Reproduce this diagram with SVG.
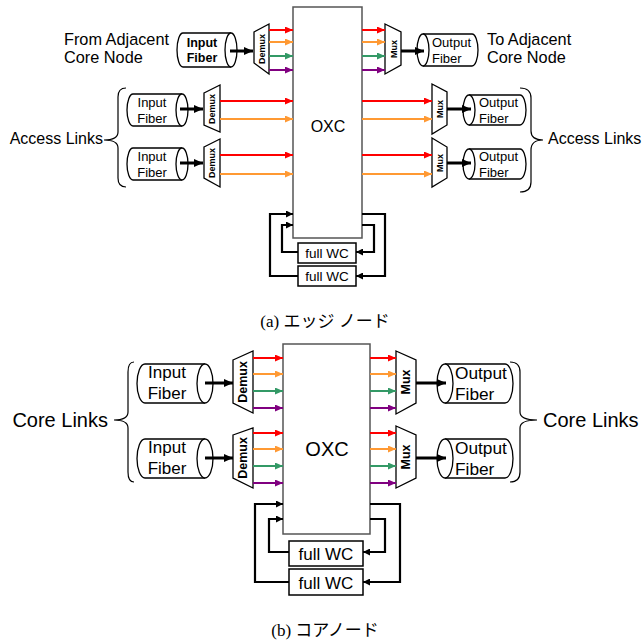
<svg xmlns="http://www.w3.org/2000/svg" width="642" height="641" viewBox="0 0 642 641">
<style>
text{font-family:"Liberation Sans",Arial,sans-serif;fill:#000}
.box{fill:#fff;stroke:#555;stroke-width:1.5}
.cyl{fill:#fff;stroke:#000;stroke-width:1.3}
.trap{fill:#fff;stroke:#000;stroke-width:1.3}
.wc{fill:#fff;stroke:#000;stroke-width:1.5}
.brace{fill:none;stroke:#000;stroke-width:1.2}
.loop{fill:none;stroke:#000;stroke-width:2.2}
.thick{fill:none;stroke:#000;stroke-width:3}
.r{stroke:#ff0000;stroke-width:2;fill:none}
.o{stroke:#ff9933;stroke-width:2;fill:none}
.g{stroke:#339966;stroke-width:2;fill:none}
.p{stroke:#800080;stroke-width:2;fill:none}
.cap{font-family:"Liberation Serif","Noto Sans CJK JP",serif;font-size:17px}
</style>
<defs>
<marker id="mr" markerUnits="userSpaceOnUse" markerWidth="8" markerHeight="7" refX="8" refY="3.5" orient="auto"><path d="M0,0L8,3.5L0,7z" fill="#ff0000"/></marker>
<marker id="mo" markerUnits="userSpaceOnUse" markerWidth="8" markerHeight="7" refX="8" refY="3.5" orient="auto"><path d="M0,0L8,3.5L0,7z" fill="#ff9933"/></marker>
<marker id="mg" markerUnits="userSpaceOnUse" markerWidth="8" markerHeight="7" refX="8" refY="3.5" orient="auto"><path d="M0,0L8,3.5L0,7z" fill="#339966"/></marker>
<marker id="mp" markerUnits="userSpaceOnUse" markerWidth="8" markerHeight="7" refX="8" refY="3.5" orient="auto"><path d="M0,0L8,3.5L0,7z" fill="#800080"/></marker>
<marker id="mk" markerUnits="userSpaceOnUse" markerWidth="9" markerHeight="8" refX="9" refY="4" orient="auto"><path d="M0,0L9,4L0,8z" fill="#000"/></marker>
<marker id="mks" markerUnits="userSpaceOnUse" markerWidth="7" markerHeight="7" refX="7" refY="3.5" orient="auto"><path d="M0,0L7,3.5L0,7z" fill="#000"/></marker>
</defs>

<!-- ===== (a) Edge node ===== -->
<g id="a-oxc"><rect class="box" x="293" y="7" width="69" height="231"/><text x="328" y="132" font-size="16" text-anchor="middle">OXC</text></g>

<g id="a-from-label"><text x="64" y="45" font-size="16.3">From Adjacent</text><text x="64" y="63" font-size="16.3">Core Node</text></g>
<g id="a-to-label"><text x="487" y="45" font-size="16.3">To Adjacent</text><text x="487" y="63" font-size="16.3">Core Node</text></g>

<g id="a-in-core">
<path class="cyl" d="M183,33H231A6,17 0 0 1 231,67H183A6,17 0 0 1 183,33Z"/><path class="cyl" d="M231,33A6,17 0 0 0 231,67"/>
<text x="202" y="47" font-size="12.5" font-weight="bold" text-anchor="middle">Input</text><text x="202" y="62" font-size="12.5" font-weight="bold" text-anchor="middle">Fiber</text></g>
<g id="a-demux-core"><polygon class="trap" points="254,32 269,24 269,74 254,63"/><text transform="translate(265,49) rotate(-90)" font-size="9" font-weight="bold" text-anchor="middle">Demux</text></g>
<g id="a-mux-core"><polygon class="trap" points="385,24 401,32 401,65 385,74"/><text transform="translate(397,49) rotate(-90)" font-size="9" font-weight="bold" text-anchor="middle">Mux</text></g>
<g id="a-out-core">
<path class="cyl" d="M423,34H472A6,16 0 0 1 472,66H423A6,16 0 0 1 423,34Z"/><path class="cyl" d="M423,34A6,16 0 0 1 423,66"/>
<text x="432" y="47" font-size="13">Output</text><text x="432" y="63" font-size="13">Fiber</text></g>

<g id="a-in-acc1">
<path class="cyl" d="M133,94H182A6,16 0 0 1 182,126H133A6,16 0 0 1 133,94Z"/><path class="cyl" d="M182,94A6,16 0 0 0 182,126"/>
<text x="152" y="107" font-size="13" text-anchor="middle">Input</text><text x="152" y="123" font-size="13" text-anchor="middle">Fiber</text></g>
<g id="a-demux-acc1"><polygon class="trap" points="204,93 220,85 220,132 204,125"/><text transform="translate(215,109) rotate(-90)" font-size="9" font-weight="bold" text-anchor="middle">Demux</text></g>
<g id="a-in-acc2">
<path class="cyl" d="M133,148H182A6,16 0 0 1 182,180H133A6,16 0 0 1 133,148Z"/><path class="cyl" d="M182,148A6,16 0 0 0 182,180"/>
<text x="152" y="161" font-size="13" text-anchor="middle">Input</text><text x="152" y="177" font-size="13" text-anchor="middle">Fiber</text></g>
<g id="a-demux-acc2"><polygon class="trap" points="204,147 220,139 220,187 204,178"/><text transform="translate(215,163) rotate(-90)" font-size="9" font-weight="bold" text-anchor="middle">Demux</text></g>

<g id="a-mux-acc1"><polygon class="trap" points="432,84 447,92 447,125 432,134"/><text transform="translate(443,109) rotate(-90)" font-size="9" font-weight="bold" text-anchor="middle">Mux</text></g>
<g id="a-out-acc1">
<path class="cyl" d="M469,95H520A6,15 0 0 1 520,125H469A6,15 0 0 1 469,95Z"/><path class="cyl" d="M469,95A6,15 0 0 1 469,125"/>
<text x="479" y="107" font-size="13">Output</text><text x="479" y="123" font-size="13">Fiber</text></g>
<g id="a-mux-acc2"><polygon class="trap" points="432,138 447,147 447,178 432,187"/><text transform="translate(443,163) rotate(-90)" font-size="9" font-weight="bold" text-anchor="middle">Mux</text></g>
<g id="a-out-acc2">
<path class="cyl" d="M469,149H520A6,15 0 0 1 520,179H469A6,15 0 0 1 469,149Z"/><path class="cyl" d="M469,149A6,15 0 0 1 469,179"/>
<text x="479" y="161" font-size="13">Output</text><text x="479" y="177" font-size="13">Fiber</text></g>

<g id="a-access-left"><path class="brace" d="M126,88Q118,88 118,97V132Q118,140 104,140Q118,140 118,148V178Q118,187 126,187"/><text x="103" y="144" font-size="16" text-anchor="end">Access Links</text></g>
<g id="a-access-right"><path class="brace" d="M520,88Q531,88 531,98V131Q531,140 543,140Q531,140 531,150V182Q531,192 520,192"/><text x="548" y="144" font-size="16">Access Links</text></g>

<g id="a-wc1"><rect class="wc" x="298" y="243" width="58" height="20"/><text x="327" y="258" font-size="13.5" text-anchor="middle">full WC</text></g>
<g id="a-wc2"><rect class="wc" x="298" y="266" width="58" height="20"/><text x="327" y="281" font-size="13.5" text-anchor="middle">full WC</text></g>

<g id="a-connectors">
<path class="thick" d="M230,51H253" marker-end="url(#mk)"/>
<path class="thick" d="M401,51H424" marker-end="url(#mk)"/>
<path class="thick" d="M180,109H203" marker-end="url(#mk)"/>
<path class="thick" d="M180,163H203" marker-end="url(#mk)"/>
<path class="thick" d="M447,109H471" marker-end="url(#mk)"/>
<path class="thick" d="M447,163H471" marker-end="url(#mk)"/>
<path class="r" d="M269,30H293" marker-end="url(#mr)"/>
<path class="o" d="M269,42H293" marker-end="url(#mo)"/>
<path class="g" d="M269,56H293" marker-end="url(#mg)"/>
<path class="p" d="M269,70H293" marker-end="url(#mp)"/>
<path class="r" d="M362,30H385" marker-end="url(#mr)"/>
<path class="o" d="M362,42H385" marker-end="url(#mo)"/>
<path class="g" d="M362,56H385" marker-end="url(#mg)"/>
<path class="p" d="M362,70H385" marker-end="url(#mp)"/>
<path class="r" d="M220,101H293" marker-end="url(#mr)"/>
<path class="o" d="M220,119H293" marker-end="url(#mo)"/>
<path class="r" d="M220,155H293" marker-end="url(#mr)"/>
<path class="o" d="M220,174H293" marker-end="url(#mo)"/>
<path class="r" d="M362,101H432" marker-end="url(#mr)"/>
<path class="o" d="M362,119H432" marker-end="url(#mo)"/>
<path class="r" d="M362,155H432" marker-end="url(#mr)"/>
<path class="o" d="M362,174H432" marker-end="url(#mo)"/>
<path class="loop" d="M298,276H270V214H293" marker-end="url(#mks)"/>
<path class="loop" d="M298,252H282V225H293" marker-end="url(#mks)"/>
<path class="loop" d="M362,214H385V276H356" marker-end="url(#mks)"/>
<path class="loop" d="M362,225H374V252H356" marker-end="url(#mks)"/>
</g>
<text class="cap" x="325" y="327" text-anchor="middle">(a) エッジ ノード</text>

<!-- ===== (b) Core node ===== -->
<g id="b-oxc"><rect class="box" x="283" y="344" width="87" height="190"/><text x="327" y="456" font-size="20" text-anchor="middle">OXC</text></g>

<g id="b-in1">
<path class="cyl" d="M145,364H205A8,19.5 0 0 1 205,403H145A8,19.5 0 0 1 145,364Z"/><path class="cyl" d="M205,364A8,19.5 0 0 0 205,403"/>
<text x="167" y="378" font-size="17" text-anchor="middle">Input</text><text x="167" y="399" font-size="17" text-anchor="middle">Fiber</text></g>
<g id="b-demux1"><polygon class="trap" points="233,360 253,351 253,413 233,403"/><text transform="translate(247,382) rotate(-90)" font-size="12.5" font-weight="bold" text-anchor="middle">Demux</text></g>
<g id="b-in2">
<path class="cyl" d="M145,439H205A8,19.5 0 0 1 205,478H145A8,19.5 0 0 1 145,439Z"/><path class="cyl" d="M205,439A8,19.5 0 0 0 205,478"/>
<text x="167" y="453" font-size="17" text-anchor="middle">Input</text><text x="167" y="474" font-size="17" text-anchor="middle">Fiber</text></g>
<g id="b-demux2"><polygon class="trap" points="233,435 253,428 253,488 233,478"/><text transform="translate(247,458) rotate(-90)" font-size="12.5" font-weight="bold" text-anchor="middle">Demux</text></g>

<g id="b-mux1"><polygon class="trap" points="396,351 416,360 416,403 396,414"/><text transform="translate(410,382) rotate(-90)" font-size="12.5" font-weight="bold" text-anchor="middle">Mux</text></g>
<g id="b-out1">
<path class="cyl" d="M445,364H505A8,19.5 0 0 1 505,403H445A8,19.5 0 0 1 445,364Z"/><path class="cyl" d="M445,364A8,19.5 0 0 1 445,403"/>
<text x="455" y="379" font-size="17.3">Output</text><text x="455" y="400" font-size="17.3">Fiber</text></g>
<g id="b-mux2"><polygon class="trap" points="396,426 416,435 416,478 396,488"/><text transform="translate(410,457) rotate(-90)" font-size="12.5" font-weight="bold" text-anchor="middle">Mux</text></g>
<g id="b-out2">
<path class="cyl" d="M445,439H505A8,19.5 0 0 1 505,478H445A8,19.5 0 0 1 445,439Z"/><path class="cyl" d="M445,439A8,19.5 0 0 1 445,478"/>
<text x="455" y="454" font-size="17.3">Output</text><text x="455" y="475" font-size="17.3">Fiber</text></g>

<g id="b-core-left"><path class="brace" d="M134,362Q128,362 128,372V412Q128,420 114,420Q128,420 128,428V472Q128,482 134,482"/><text x="108" y="427" font-size="20" text-anchor="end">Core Links</text></g>
<g id="b-core-right"><path class="brace" d="M510,362Q520,362 520,372V412Q520,420 537,420Q520,420 520,428V472Q520,482 510,482"/><text x="543" y="427" font-size="20">Core Links</text></g>

<g id="b-wc1"><rect class="wc" x="289" y="541" width="74" height="25"/><text x="326" y="560" font-size="17" text-anchor="middle">full WC</text></g>
<g id="b-wc2"><rect class="wc" x="289" y="569" width="74" height="26"/><text x="326" y="589" font-size="17" text-anchor="middle">full WC</text></g>

<g id="b-connectors">
<path class="thick" d="M205,383H233" marker-end="url(#mk)"/>
<path class="thick" d="M205,458H233" marker-end="url(#mk)"/>
<path class="thick" d="M416,383H446" marker-end="url(#mk)"/>
<path class="thick" d="M416,458H446" marker-end="url(#mk)"/>
<path class="r" d="M253,358H283" marker-end="url(#mr)"/>
<path class="o" d="M253,374H283" marker-end="url(#mo)"/>
<path class="g" d="M253,391H283" marker-end="url(#mg)"/>
<path class="p" d="M253,408H283" marker-end="url(#mp)"/>
<path class="r" d="M253,433H283" marker-end="url(#mr)"/>
<path class="o" d="M253,449H283" marker-end="url(#mo)"/>
<path class="g" d="M253,466H283" marker-end="url(#mg)"/>
<path class="p" d="M253,483H283" marker-end="url(#mp)"/>
<path class="r" d="M370,358H396" marker-end="url(#mr)"/>
<path class="o" d="M370,374H396" marker-end="url(#mo)"/>
<path class="g" d="M370,391H396" marker-end="url(#mg)"/>
<path class="p" d="M370,408H396" marker-end="url(#mp)"/>
<path class="r" d="M370,433H396" marker-end="url(#mr)"/>
<path class="o" d="M370,449H396" marker-end="url(#mo)"/>
<path class="g" d="M370,466H396" marker-end="url(#mg)"/>
<path class="p" d="M370,483H396" marker-end="url(#mp)"/>
<path class="loop" d="M289,582H255V504H283" marker-end="url(#mks)"/>
<path class="loop" d="M289,552H269V519H283" marker-end="url(#mks)"/>
<path class="loop" d="M370,504H400V582H363" marker-end="url(#mks)"/>
<path class="loop" d="M370,519H385V552H363" marker-end="url(#mks)"/>
</g>
<text class="cap" x="325" y="636" text-anchor="middle">(b) コアノード</text>
</svg>
